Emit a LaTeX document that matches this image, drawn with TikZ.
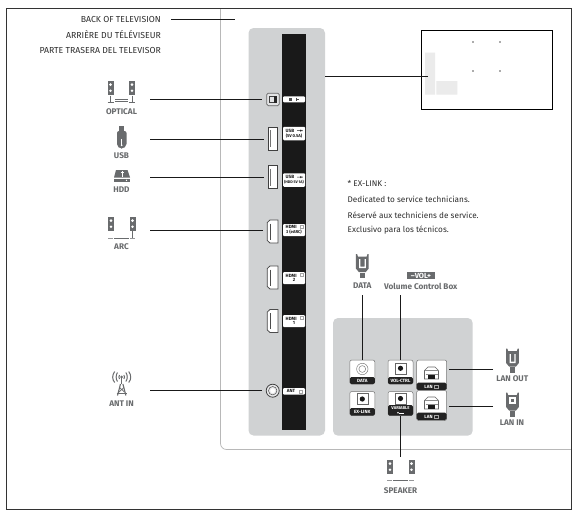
\documentclass[tikz,border=0pt]{standalone}
\usepackage{fontspec}
\setmainfont{Fira Sans}
\definecolor{panel}{RGB}{208,210,211}
\definecolor{icon}{RGB}{105,107,109}
\definecolor{txt}{RGB}{45,45,45}
\definecolor{lanbar}{RGB}{35,35,35}
\tikzset{
 lbl/.style={font=\fontsize{8.2}{8.5}\selectfont\bfseries,text=icon,inner sep=0pt},
 head/.style={font=\fontsize{8.7}{9}\selectfont,text=txt,inner sep=0pt,anchor=east},
 note/.style={font=\fontsize{8.2}{9}\selectfont,text=txt,inner sep=0pt,anchor=west},
 conn/.style={draw=black!90,line width=0.75pt},
 tagbox/.style={fill=white,rounded corners=1pt,font=\fontsize{4.6}{5}\selectfont\bfseries,align=center,inner sep=0pt,minimum width=22pt,text=black!90},
 port/.style={draw=black!75,fill=white,line width=0.8pt,inner sep=0pt,minimum width=8.5pt,minimum height=23pt},
 btn/.style={draw=black!55,fill=white,rounded corners=2pt,line width=0.5pt,inner sep=0pt},
 blk/.style={fill=lanbar,text=white,font=\fontsize{4.6}{5}\selectfont\bfseries,align=center,inner sep=0pt},
}
\newcommand{\spk}[2]{% left speaker corner x,y
 \fill[icon] (#1,#2) rectangle ++(6,14);
 \fill[icon] (#1+21.5,#2) rectangle ++(6,14);
 \fill[white] (#1+3,#2+3.6) circle (1.4) (#1+3,#2+9.8) circle (1.4) (#1+24.5,#2+3.6) circle (1.4) (#1+24.5,#2+9.8) circle (1.4);
}
\newcommand{\spkbase}[2]{%
 \draw[icon!70,line width=.8pt] (#1,#2) -- ++(5,0) (#1+22,#2) -- ++(5,0);
 \draw[icon,line width=.9pt] (#1+6,#2) -- ++(15,0);
}
\newcommand{\plug}[2]{% centre x, top y
 \begin{scope}[shift={(#1,#2)}]
  \fill[icon] (-6.4,0) -- (-5.2,0) -- (-4.4,2.5) -- (4.4,2.5) -- (5.2,0) -- (6.4,0) -- (6.4,14.5) -- (3.5,18) -- (-3.5,18) -- (-6.4,14.5) -- cycle;
  \fill[icon] (-2.2,18.8) rectangle (2.2,24);
 \end{scope}}
\newcommand{\hdmi}[2]{% name, centre y
 \coordinate (#1) at (267,#2);
 \filldraw[draw=black!70,fill=white,line width=.8pt] (278,#2-11.5) -- (270,#2-11.5) -- (267.3,#2-9) -- (267.3,#2+9) -- (270,#2+11.5) -- (278,#2+11.5) -- cycle;
 \draw[black!70,line width=.5pt] (270.5,#2-8) -- (270.5,#2+8);
}
\newcommand{\mini}[2]{\draw[black!35,line width=.35pt] (#1,#2) rectangle ++(3.2,3.2);}
\newcommand{\usbs}[2]{\draw[black!85,line width=.45pt] (#1,#2) -- ++(5,0) (#1+3,#2) -- ++(1,-1) (#1+3,#2) -- ++(1,1); \fill[black!85] (#1+5,#2) circle (.7);}
\newcommand{\lanicon}[2]{%
 \draw[black!60,line width=.6pt] (#1-7,#2+6) -- (#1-7,#2-2.5) -- (#1-3.5,#2-6) -- (#1+3.5,#2-6) -- (#1+7,#2-2.5) -- (#1+7,#2+6) -- cycle;
 \draw[black!45,line width=.4pt] (#1-7,#2-2.5) -- (#1+7,#2-2.5) (#1-6,#2+1) -- (#1+6,#2+1);
 \fill[black!90] (#1-3.5,#2+1.5) rectangle (#1+3.5,#2+6);
}
\newcommand{\jack}[2]{%
 \draw[black!60,line width=.6pt] (#1-5.5,#2-5.5) rectangle (#1+5.5,#2+5.5);
 \fill[black!90] (#1,#2) circle (2.6);
}
\begin{document}
\begin{tikzpicture}[x=1pt,y=-1pt]
\useasboundingbox (0,0) rectangle (578,525);
\fill[white] (0,0) rectangle (578,525);
% frame and TV back outline
\draw[black!28,line width=0.7pt,rounded corners=6pt] (220.5,8.5) -- (220.5,449.5) -- (571.5,449.5);
\draw[black!80,line width=0.8pt] (6.5,8.5) rectangle (571.5,509.5);
% headings
\node[head] (h1) at (161,19.5) {BACK OF TELEVISION};
\node[head] (h2) at (161,34.5) {ARRIÈRE DU TÉLÉVISEUR};
\node[head] (h3) at (161,50.5) {PARTE TRASERA DEL TELEVISOR};
\coordinate (h1a) at (171,19.8);
\coordinate (h1b) at (235,19.8);
\draw[conn] (h1a) -- (h1b);
% main panel
\fill[panel,rounded corners=5pt] (248.5,28) rectangle (325,435.5);
\fill[black!90] (282,34) rectangle (306,430);
\coordinate (pan) at (325,76.3);
% ports
\node[draw=black!60,fill=panel!60,rounded corners=1.5pt,line width=.8pt,minimum width=12.5pt,minimum height=12.5pt,inner sep=0pt] (opt) at (273,99.4) {};
\draw[black!75,line width=.5pt] (269.7,96.3) rectangle (276.5,102.6);
\fill[black!85] (273.5,96.3) rectangle (276.5,102.6);
\node[port] (usb1) at (272.7,138.6) {};
\node[port] (usb2) at (272.7,177.3) {};
\draw[black!55,line width=.4pt] (270.5,130) -- (270.5,147) (270.5,169) -- (270.5,186);
\hdmi{hd3}{231.5}
\hdmi{hd2}{277.5}
\hdmi{hd1}{321}
\node[circle,draw=black!75,fill=panel!50,line width=.8pt,minimum size=13pt,inner sep=0pt] (ant) at (272.7,390.7) {};
\draw[black!70,line width=.5pt] (ant.center) circle (4.2);
\fill[white] (ant.center) circle (2.4);
% tags
\node[tagbox,minimum height=6pt] (tOpt) at (294,99.4) {};
\fill[black!70] (289,97.6) rectangle (292,101.2);
\draw[black!70,line width=.4pt] (296,97.6) -- (296,101.2) (296,99.4) -- (299,99.4);
\node[tagbox,minimum height=13.5pt] (tUsb1) at (294,133.5) {USB\hspace{7pt}\phantom{.}\\[-.3pt]{\fontsize{4.2}{4.6}\selectfont(5V 0.5A)}};
\usbs{297}{130.6}
\node[tagbox,minimum height=13.5pt] (tUsb2) at (294,180) {USB\hspace{7pt}\phantom{.}\\[-.3pt]{\fontsize{3.8}{4.6}\selectfont(HDD 5V 1A)}};
\usbs{297}{177.1}
\node[tagbox,minimum height=12pt] (tH3) at (294,230) {HDMI\hspace{4.5pt}\phantom{.}\\[-.3pt]{\fontsize{4.2}{4.6}\selectfont 3 (eARC)}};
\mini{300}{225.3}
\node[tagbox,minimum height=12pt] (tH2) at (294,278) {HDMI\hspace{4.5pt}\phantom{.}\\[-.3pt]2};
\mini{300}{273.3}
\node[tagbox,minimum height=12pt] (tH1) at (294,321) {HDMI\hspace{4.5pt}\phantom{.}\\[-.3pt]1};
\mini{300}{316.3}
\node[tagbox,minimum height=6.5pt] (tAnt) at (294,391.3) {ANT\hspace{5pt}\phantom{.}};
\mini{299}{389.7}
% left icons
\spk{107.5}{81}
\draw[icon,line width=.6pt] (110.5,95.5) -- (110.5,101.5) (107.5,101.8) -- (113.5,101.8) (132,95.5) -- (132,101.5) (129,101.8) -- (135,101.8);
\draw[icon,line width=.5pt] (115,99.3) -- (127.5,99.3) (115,101.3) -- (127.5,101.3);
\node[lbl] (lOpt) at (121.5,111.5) {OPTICAL};
\coordinate (aOpt) at (150,99.4);
% USB stick
\fill[icon] (119,125.5) rectangle (124.3,131);
\fill[icon,rounded corners=2pt] (117,131) -- (126.5,131) -- (126.5,146) -- (123,148.5) -- (120,148.5) -- (117,146) -- cycle;
\draw[white,line width=.5pt] (121.7,139) -- (121.7,145);
\fill[white] (121.7,145.3) circle (.9);
\node[lbl] (lUsb) at (121.5,156) {USB};
\coordinate (aUsb) at (150,139.2);
% HDD
\fill[icon] (116,170) -- (127.5,170) -- (130,177.5) -- (114,177.5) -- cycle;
\fill[icon] (114,178.5) rectangle (130,182);
\draw[white,line width=.7pt] (122,171) -- (122,176.5);
\draw[white,line width=.6pt] (120.5,172.5) -- (123.5,172.5);
\fill[white] (126.5,180.3) circle (.7);
\node[lbl] (lHdd) at (121.5,190) {HDD};
\coordinate (aHdd) at (150,177.2);
% ARC
\spk{108}{217}
\draw[icon,line width=.6pt] (132.5,231) -- (132.5,237.8);
\spkbase{108}{238}
\node[lbl] (lArc) at (121.5,247) {ARC};
\coordinate (aArc) at (150,230.3);
% Antenna
\begin{scope}[icon,line width=1pt]
\draw (117.5,372.5) .. controls (115.7,375) and (115.7,379) .. (117.5,381.5);
\draw (114.7,371.5) .. controls (112,375) and (112,379.5) .. (114.7,382.5);
\draw (125.9,372.5) .. controls (127.7,375) and (127.7,379) .. (125.9,381.5);
\draw (128.7,371.5) .. controls (131.4,375) and (131.4,379.5) .. (128.7,382.5);
\draw (119.5,375) .. controls (118.7,376) and (118.7,378) .. (119.5,379);
\draw (123.9,375) .. controls (124.7,376) and (124.7,378) .. (123.9,379);
\fill (121.7,377) circle (1.5);
\draw[line width=1.4pt] (121.7,377) -- (121.7,384);
\draw[line width=1.1pt] (120.5,384) -- (117.5,395.5) (122.9,384) -- (125.9,395.5);
\draw[line width=.7pt] (119.5,387.5) -- (124.5,392) (124,387.5) -- (119,392);
\draw[line width=1.5pt] (116.7,393.5) -- (126.7,393.5);
\end{scope}
\node[lbl] (lAnt) at (121.5,404) {ANT IN};
\coordinate (aAnt) at (150,390.7);
% left connectors
\draw[conn,shorten >=4pt] (aOpt) -- (opt.west);
\draw[conn,shorten >=4.5pt] (aUsb) -- (aUsb-|usb1.west);
\draw[conn,shorten >=4.5pt] (aHdd) -- (aHdd-|usb2.west);
\draw[conn,shorten >=4pt] (aArc) -- (aArc-|hd3);
\draw[conn,shorten >=3.5pt] (aAnt) -- (ant.west);
% TV mini diagram
\node[draw=black,line width=.8pt,minimum width=131pt,minimum height=79pt,inner sep=0pt] (tv) at (486.8,69.8) {};
\fill[black!8] (425,52.7) rectangle (435,94.7) (436.3,81) rectangle (457.3,94.7);
\fill[black!65] (473,42) circle (.9) (500,42) circle (.9) (473,71) circle (.9) (500,71) circle (.9);
\coordinate (tvin) at (428.3,76.3);
\draw[conn] (pan) -- (tvin);
% notes
\node[note] (n1) at (347.5,183.3) {* EX-LINK :};
\node[note] (n2) at (347.5,199.5) {Dedicated to service technicians.};
\node[note] (n3) at (347.5,214.8) {Réservé aux techniciens de service.};
\node[note] (n4) at (347.5,229.8) {Exclusivo para los técnicos.};
% side panel
\fill[panel,rounded corners=5pt] (333,318) rectangle (472.7,435.7);
% buttons
\node[btn,minimum width=25pt,minimum height=24pt] (bData) at (362.3,372) {};
\fill[lanbar,rounded corners=1.5pt] (349.8,377) rectangle (374.8,384);
\node[blk,fill=none] at (362.3,380.5) {DATA};
\draw[black!50,line width=.5pt] (362.3,369) circle (5.7) (362.3,369) circle (3.4);
\node[btn,minimum width=25pt,minimum height=24pt] (bVol) at (400.5,372) {};
\fill[lanbar,rounded corners=1.5pt] (388,377) rectangle (413,384);
\node[blk,fill=none] at (400.5,380.5) {VOL-CTRL};
\jack{400.5}{368.3}
\node[btn,minimum width=25pt,minimum height=24pt] (bEx) at (362.3,403.5) {};
\fill[lanbar,rounded corners=1.5pt] (349.8,408) rectangle (374.8,415.5);
\node[blk,fill=none] at (362.3,411.7) {EX-LINK};
\jack{362.3}{399}
\node[btn,minimum width=25pt,minimum height=24pt] (bVar) at (400.5,403.5) {};
\fill[lanbar,rounded corners=1.5pt] (388,405) rectangle (413,415.5);
\node[blk,fill=none,font=\fontsize{4.2}{4.5}\selectfont\bfseries] at (400.5,408) {VARIABLE};
\draw[white,line width=.5pt] (399,412.8) -- (404,412.8);
\fill[white] (398,412.8) circle (.9);
\jack{400.5}{398.5}
\node[btn,minimum width=30pt,minimum height=30pt] (bLan1) at (431.7,375) {};
\fill[lanbar,rounded corners=1.5pt] (416.7,382.7) rectangle (446.7,390);
\node[blk,fill=none] at (428.5,386.5) {LAN};
\mini{434.5}{384.9}
\lanicon{431.5}{373}
\node[btn,minimum width=30pt,minimum height=30pt] (bLan2) at (431.7,405.5) {};
\fill[lanbar,rounded corners=1.5pt] (416.7,412.7) rectangle (446.7,420);
\node[blk,fill=none] at (428.5,416.5) {LAN};
\mini{434.5}{414.9}
\lanicon{431.5}{403}
% right icons
\plug{362.3}{254}
\fill[white] (359,259) rectangle (360.3,268) (364.5,259) rectangle (365.8,268) (359,266.5) rectangle (365.8,268);
\node[lbl] (lData) at (362.3,286) {DATA};
\coordinate (aData) at (362.3,295);
\node[fill=icon,text=white,font=\fontsize{7.4}{7.4}\selectfont\bfseries,inner sep=0pt,minimum width=28pt,minimum height=7pt] (vol) at (421,275.5) {\raisebox{-.2pt}{–}VOL+};
\node[lbl] (lVol) at (420.8,286) {Volume Control Box};
\coordinate (aVol) at (400.5,295);
\plug{512.5}{348.5}
\fill[white] (509.5,354) rectangle (510.8,363) (514.4,354) rectangle (515.7,363) (509.5,361.7) rectangle (515.7,363);
\node[lbl] (lOut) at (512.3,379) {LAN OUT};
\coordinate (aOut) at (493,369.3);
\plug{512.5}{392.5}
\fill[white] (509.3,397) rectangle (515.7,403.5);
\fill[icon] (510.8,398.5) rectangle (514.2,402);
\node[lbl] (lIn) at (512,422.7) {LAN IN};
\coordinate (aIn) at (493,406);
\spk{387}{460}
\spkbase{387}{480.7}
\node[lbl] (lSpk) at (400.5,491) {SPEAKER};
\coordinate (aSpk) at (400.5,456.7);
% right connectors
\draw[conn] (aData) -- (bData.north);
\draw[conn] (aVol) -- (bVol.north);
\draw[conn] (aSpk) -- (bVar.south);
\draw[conn,shorten >=2.3pt] (aOut) -- (aOut-|bLan1.east);
\draw[conn,shorten >=2.3pt] (aIn) -- (aIn-|bLan2.east);
\end{tikzpicture}
\end{document}
